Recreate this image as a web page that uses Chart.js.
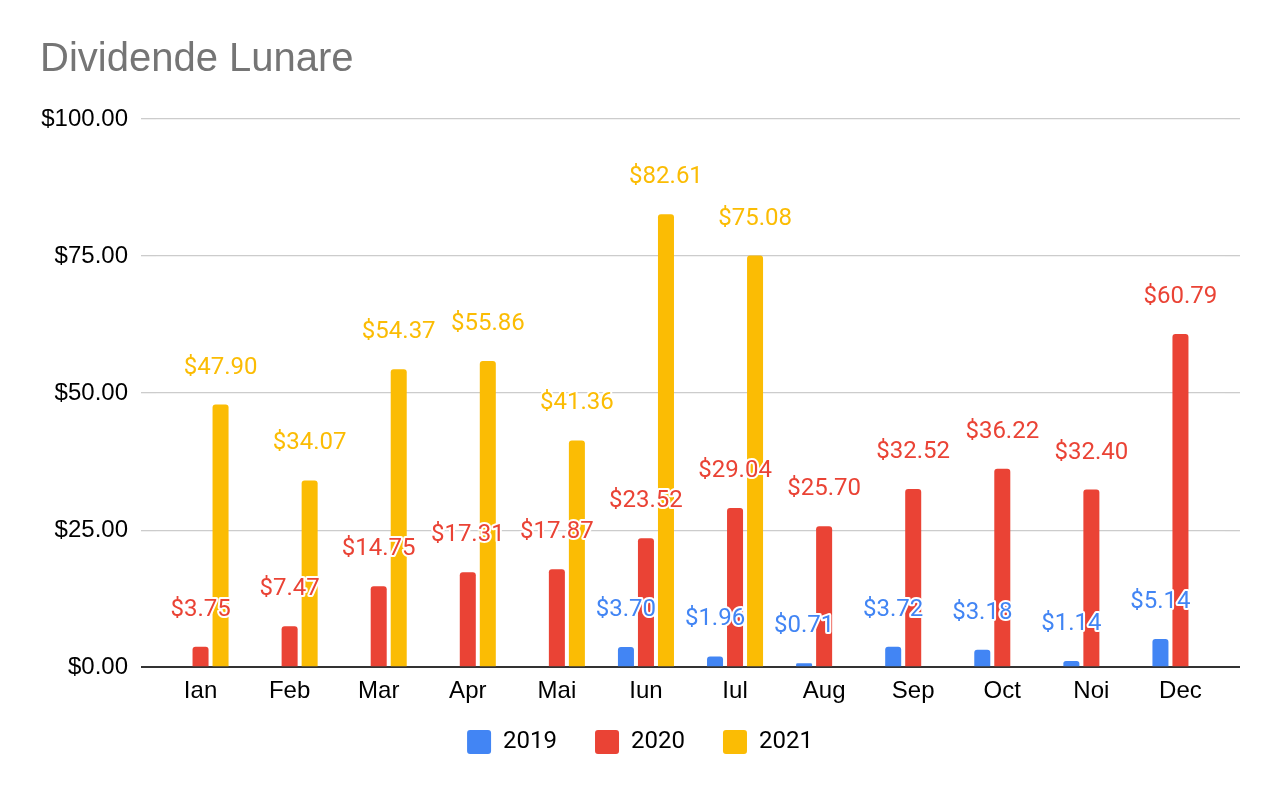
<!DOCTYPE html>
<html>
<head>
<meta charset="utf-8">
<script src="https://cdn.jsdelivr.net/npm/chart.js@4.4.0/dist/chart.umd.min.js"></script>
<style>
  html, body { margin: 0; padding: 0; background: #fff; }
  #wrap { width: 1280px; height: 792px; position: relative; }
</style>
</head>
<body>
<div id="wrap"><canvas id="DivChart"></canvas></div>
<script>
const months = ['Ian', 'Feb', 'Mar', 'Apr', 'Mai', 'Iun', 'Iul', 'Aug', 'Sep', 'Oct', 'Noi', 'Dec'];
const div2019 = [null, null, null, null, null, 3.70, 1.96, 0.71, 3.72, 3.18, 1.14, 5.14];
const div2020 = [3.75, 7.47, 14.75, 17.31, 17.87, 23.52, 29.04, 25.70, 32.52, 36.22, 32.40, 60.79];
const div2021 = [47.90, 34.07, 54.37, 55.86, 41.36, 82.61, 75.08, null, null, null, null, null];
const yTicks = [0, 25, 50, 75, 100];

function money(v){
  return '$' + Number(v).toFixed(2);
}

// etichete deasupra barelor (cu contur alb)
const barLabels = {
  id: 'barLabels',
  afterDatasetsDraw(chart){
    const ctx = chart.ctx;
    ctx.save();
    ctx.font = '24px Roboto';
    ctx.textAlign = 'center';
    ctx.textBaseline = 'middle';
    ctx.lineJoin = 'round';
    ctx.lineWidth = 4;
    ctx.strokeStyle = '#fff';
    chart.data.datasets.forEach(function(ds, i){
      const meta = chart.getDatasetMeta(i);
      meta.data.forEach(function(bar, j){
        const v = ds.data[j];
        if(v === null || v === undefined) return;
        const y = bar.y - 37;
        ctx.strokeText(money(v), bar.x, y);
        ctx.fillStyle = ds.backgroundColor;
        ctx.fillText(money(v), bar.x, y);
      });
    });
    ctx.restore();
  }
};

// legenda putin mai sus, mai aproape de axa
const legendNudge = {
  id: 'legendNudge',
  afterLayout(chart){
    if(!chart.legend) return;
    chart.legend.top -= 24;
    chart.legend.bottom -= 24;
  }
};

function gridColor(c){ return c.tick && c.tick.value === 0 ? '#333333' : '#cccccc'; }
function gridWidth(c){ return c.tick && c.tick.value === 0 ? 2 : 1.3; }

const ctx = document.getElementById('DivChart');
const data = {
  labels: months,
  datasets: [
    { label: '2019', data: div2019, backgroundColor: '#4285F4' },
    { label: '2020', data: div2020, backgroundColor: '#EA4335' },
    { label: '2021', data: div2021, backgroundColor: '#FBBC04' }
  ]
};
data.datasets.forEach(function(ds){
  ds.categoryPercentage = 0.674;
  ds.barPercentage = 0.8;
  ds.borderRadius = 3;
  ds.borderSkipped = 'start';
});

const option = {
  responsive: true,
  maintainAspectRatio: false,
  animation: false,
  layout: { padding: { left: 40, right: 40, top: 0, bottom: 4 } },
  plugins: {
    title: {
      display: true,
      text: 'Dividende Lunare',
      align: 'start',
      color: '#757575',
      font: { family: 'Liberation Sans', size: 40, weight: 'normal' },
      padding: { top: 36, bottom: 35 }
    },
    legend: {
      position: 'bottom',
      labels: {
        boxWidth: 24,
        boxHeight: 24,
        padding: 38,
        color: '#222222',
        font: { family: 'Roboto', size: 24 },
        generateLabels: function(chart){
          return chart.data.datasets.map(function(ds, i){
            return {
              text: ds.label, fillStyle: ds.backgroundColor, strokeStyle: ds.backgroundColor,
              lineWidth: 0, borderRadius: 3, datasetIndex: i, hidden: false
            };
          });
        },
        useBorderRadius: true,
        borderRadius: 3
      }
    },
    tooltip: { enabled: false }
  },
  scales: {
    x: {
      grid: { display: false, drawTicks: false },
      border: { display: false },
      ticks: { color: '#000000', font: { family: 'Liberation Sans', size: 24 }, padding: 10, maxRotation: 0 }
    },
    y: {
      min: 0, max: 100,
      afterBuildTicks: function(scale){ scale.ticks = yTicks.map(function(v){ return { value: v }; }); },
      afterFit: function(scale){ scale.width = 116; },
      border: { display: false },
      grid: { color: gridColor, lineWidth: gridWidth, tickColor: gridColor, tickWidth: gridWidth, drawTicks: true, tickLength: 15 },
      ticks: { color: '#000000', font: { family: 'Liberation Sans', size: 24 }, padding: 13, callback: function(v){ return money(v); } }
    },
    yRight: {
      position: 'right',
      min: 0, max: 100,
      afterBuildTicks: function(scale){ scale.ticks = yTicks.map(function(v){ return { value: v }; }); },
      afterFit: function(scale){ scale.width = 15; },
      border: { display: false },
      grid: { drawOnChartArea: false, color: gridColor, lineWidth: gridWidth, tickColor: gridColor, tickWidth: gridWidth, drawTicks: true, tickLength: 15 },
      ticks: { display: false }
    }
  }
};

new Chart(ctx, { type: 'bar', data: data, options: option, plugins: [barLabels, legendNudge] });
</script>
</body>
</html>
